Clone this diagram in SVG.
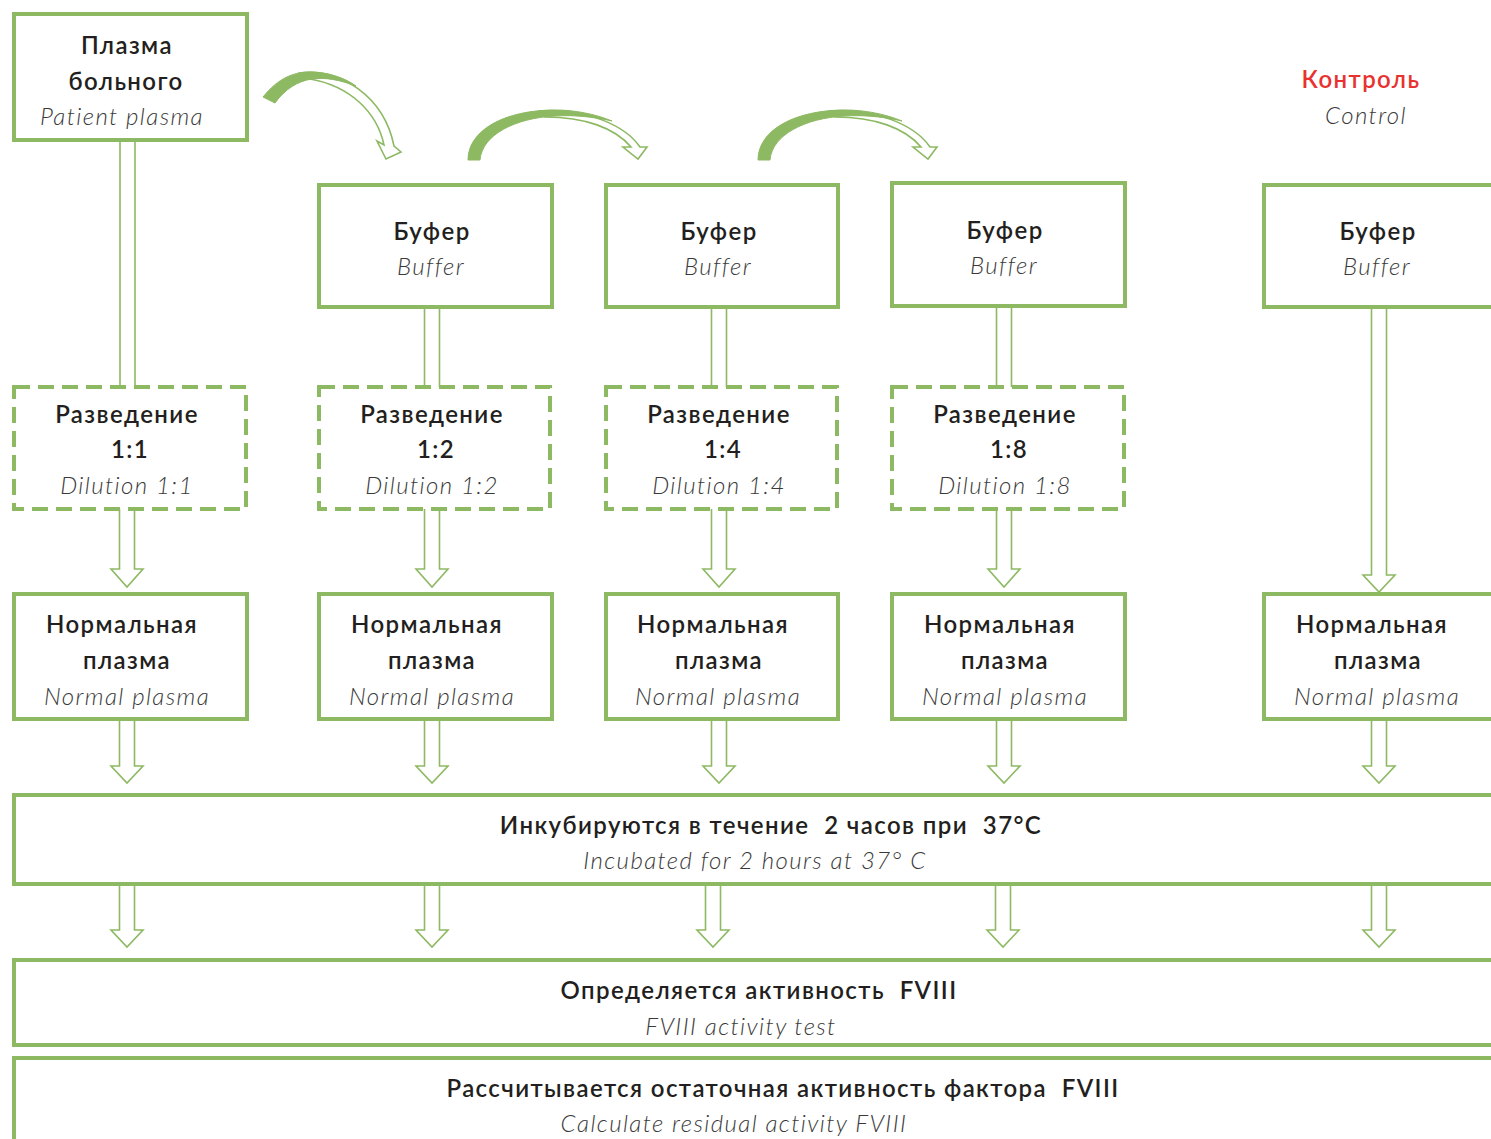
<svg xmlns="http://www.w3.org/2000/svg" width="1491" height="1139" viewBox="0 0 1491 1139">
<style>
.box{fill:#fff;stroke:#8DB963;stroke-width:4}
.dash{fill:#fff;stroke:#8DB963;stroke-width:4;stroke-dasharray:16 8}
.arr{fill:#fff;stroke:#8DB963;stroke-width:1.6}
.curvefill{fill:#8DB963;stroke:#8DB963;stroke-width:1}
.b{font-family:Lato,"Liberation Sans",sans-serif;font-weight:600;font-size:24px;letter-spacing:1.4px;fill:#231F20;text-anchor:middle;white-space:pre}
.i{font-family:Lato,"Liberation Sans",sans-serif;font-weight:300;font-style:italic;font-size:24px;letter-spacing:1.4px;fill:#3a3a3a;text-anchor:middle;white-space:pre}
.red{fill:#E8322F}
</style>
<rect width="1491" height="1139" fill="#fff"/>
<g id="connectors">
<path class="arr" d="M120,140 V387 M135,140 V387"/>
<path class="arr" d="M424.5,307 V387 M439.5,307 V387"/>
<path class="arr" d="M711.5,307 V387 M726.5,307 V387"/>
<path class="arr" d="M996.5,306 V387 M1011.5,306 V387"/>
<path class="arr" d="M119.5,509 V569 H111 L127,587 L143,569 H134.5 V509"/>
<path class="arr" d="M424.5,509 V569 H416 L432,587 L448,569 H439.5 V509"/>
<path class="arr" d="M711.5,509 V569 H703 L719,587 L735,569 H726.5 V509"/>
<path class="arr" d="M996.5,509 V569 H988 L1004,587 L1020,569 H1011.5 V509"/>
<path class="arr" d="M1371.5,307 V575 H1363 L1379,592 L1395,575 H1386.5 V307"/>
<path class="arr" d="M119.5,719 V766 H111 L127,783 L143,766 H134.5 V719"/>
<path class="arr" d="M424.5,719 V766 H416 L432,783 L448,766 H439.5 V719"/>
<path class="arr" d="M711.5,719 V766 H703 L719,783 L735,766 H726.5 V719"/>
<path class="arr" d="M996.5,719 V766 H988 L1004,783 L1020,766 H1011.5 V719"/>
<path class="arr" d="M1371.5,719 V766 H1363 L1379,783 L1395,766 H1386.5 V719"/>
<path class="arr" d="M119.5,884 V930 H111 L127,947 L143,930 H134.5 V884"/>
<path class="arr" d="M424.5,884 V930 H416 L432,947 L448,930 H439.5 V884"/>
<path class="arr" d="M705.5,884 V930 H697 L713,947 L729,930 H720.5 V884"/>
<path class="arr" d="M995.5,884 V930 H987 L1003,947 L1019,930 H1010.5 V884"/>
<path class="arr" d="M1371.5,884 V930 H1363 L1379,947 L1395,930 H1386.5 V884"/>
<g id="curve1">
<path class="arr" d="M300,73 C340,68 384,96 394,146 L401,152 L386,159 L377,141 L384,145 C377,112 350,86 310,79 Z"/>
<path class="curvefill" d="M263,97 C278,78 295,71 313,72 C330,73 345,78 356,86 C340,80 325,77 312,79 C298,81 285,89 275,103 Z"/>
</g>
<g id="curve2">
<path class="arr" d="M540,111 C585,108 625,125 640,147 L647,147 L638,159 L623,147 L631,147 C615,128 585,117 545,117 Z"/>
<path class="curvefill" d="M468,160 C468,130 505,110 555,110 C575,110 595,114 612,121 C590,116 570,115 555,116 C515,118 482,135 480,160 Z"/>
</g>
<g id="curve3" transform="translate(290,0)">
<path class="arr" d="M540,111 C585,108 625,125 640,147 L647,147 L638,159 L623,147 L631,147 C615,128 585,117 545,117 Z"/>
<path class="curvefill" d="M468,160 C468,130 505,110 555,110 C575,110 595,114 612,121 C590,116 570,115 555,116 C515,118 482,135 480,160 Z"/>
</g>
</g>
<g id="patient">
<rect class="box" x="14" y="14" width="233" height="126"/>
<text class="b" x="127" y="54">Плазма</text>
<text class="b" x="126" y="90">больного</text>
<text class="i" x="122" y="125">Patient plasma</text>
</g>
<g id="control-label">
<text class="b red" x="1361" y="88">Контроль</text>
<text class="i" x="1366" y="124">Control</text>
</g>
<g id="buffer1"><rect class="box" x="319" y="185" width="233" height="122"/><text class="b" x="432" y="240">Буфер</text><text class="i" x="431" y="275">Buffer</text></g>
<g id="buffer2"><rect class="box" x="606" y="185" width="232" height="122"/><text class="b" x="719" y="240">Буфер</text><text class="i" x="718" y="275">Buffer</text></g>
<g id="buffer3"><rect class="box" x="892" y="183" width="233" height="123"/><text class="b" x="1005" y="239">Буфер</text><text class="i" x="1004" y="274">Buffer</text></g>
<g id="buffer4"><rect class="box" x="1264" y="185" width="240" height="122"/><text class="b" x="1378" y="240">Буфер</text><text class="i" x="1377" y="275">Buffer</text></g>
<g id="dil1"><rect class="dash" x="14" y="387" width="232" height="122"/><text class="b" x="127" y="423">Разведение</text><text class="b" x="130" y="458">1:1</text><text class="i" x="127" y="494">Dilution 1:1</text></g>
<g id="dil2"><rect class="dash" x="319" y="387" width="231" height="122"/><text class="b" x="432" y="423">Разведение</text><text class="b" x="436" y="458">1:2</text><text class="i" x="432" y="494">Dilution 1:2</text></g>
<g id="dil3"><rect class="dash" x="606" y="387" width="231" height="122"/><text class="b" x="719" y="423">Разведение</text><text class="b" x="723" y="458">1:4</text><text class="i" x="719" y="494">Dilution 1:4</text></g>
<g id="dil4"><rect class="dash" x="892" y="387" width="232" height="122"/><text class="b" x="1005" y="423">Разведение</text><text class="b" x="1009" y="458">1:8</text><text class="i" x="1005" y="494">Dilution 1:8</text></g>
<g id="norm1"><rect class="box" x="14" y="594" width="233" height="125"/><text class="b" x="122" y="633">Нормальная</text><text class="b" x="127" y="669">плазма</text><text class="i" x="127" y="705">Normal plasma</text></g>
<g id="norm2"><rect class="box" x="319" y="594" width="233" height="125"/><text class="b" x="427" y="633">Нормальная</text><text class="b" x="432" y="669">плазма</text><text class="i" x="432" y="705">Normal plasma</text></g>
<g id="norm3"><rect class="box" x="606" y="594" width="232" height="125"/><text class="b" x="713" y="633">Нормальная</text><text class="b" x="719" y="669">плазма</text><text class="i" x="718" y="705">Normal plasma</text></g>
<g id="norm4"><rect class="box" x="892" y="594" width="233" height="125"/><text class="b" x="1000" y="633">Нормальная</text><text class="b" x="1005" y="669">плазма</text><text class="i" x="1005" y="705">Normal plasma</text></g>
<g id="norm5"><rect class="box" x="1264" y="594" width="240" height="125"/><text class="b" x="1372" y="633">Нормальная</text><text class="b" x="1378" y="669">плазма</text><text class="i" x="1377" y="705">Normal plasma</text></g>
<g id="incubate"><rect class="box" x="14" y="795" width="1490" height="89"/><text class="b" x="771" y="834" xml:space="preserve">Инкубируются в течение  2 часов при  37°C</text><text class="i" x="755" y="869">Incubated for 2 hours at 37° C</text></g>
<g id="activity"><rect class="box" x="14" y="960" width="1490" height="85"/><text class="b" x="759" y="999" xml:space="preserve">Определяется активность  FVIII</text><text class="i" x="741" y="1035">FVIII activity test</text></g>
<g id="calc"><rect class="box" x="14" y="1058" width="1490" height="100"/><text class="b" x="783" y="1097" xml:space="preserve">Рассчитывается остаточная активность фактора  FVIII</text><text class="i" x="734" y="1132">Calculate residual activity FVIII</text></g>
</svg>
